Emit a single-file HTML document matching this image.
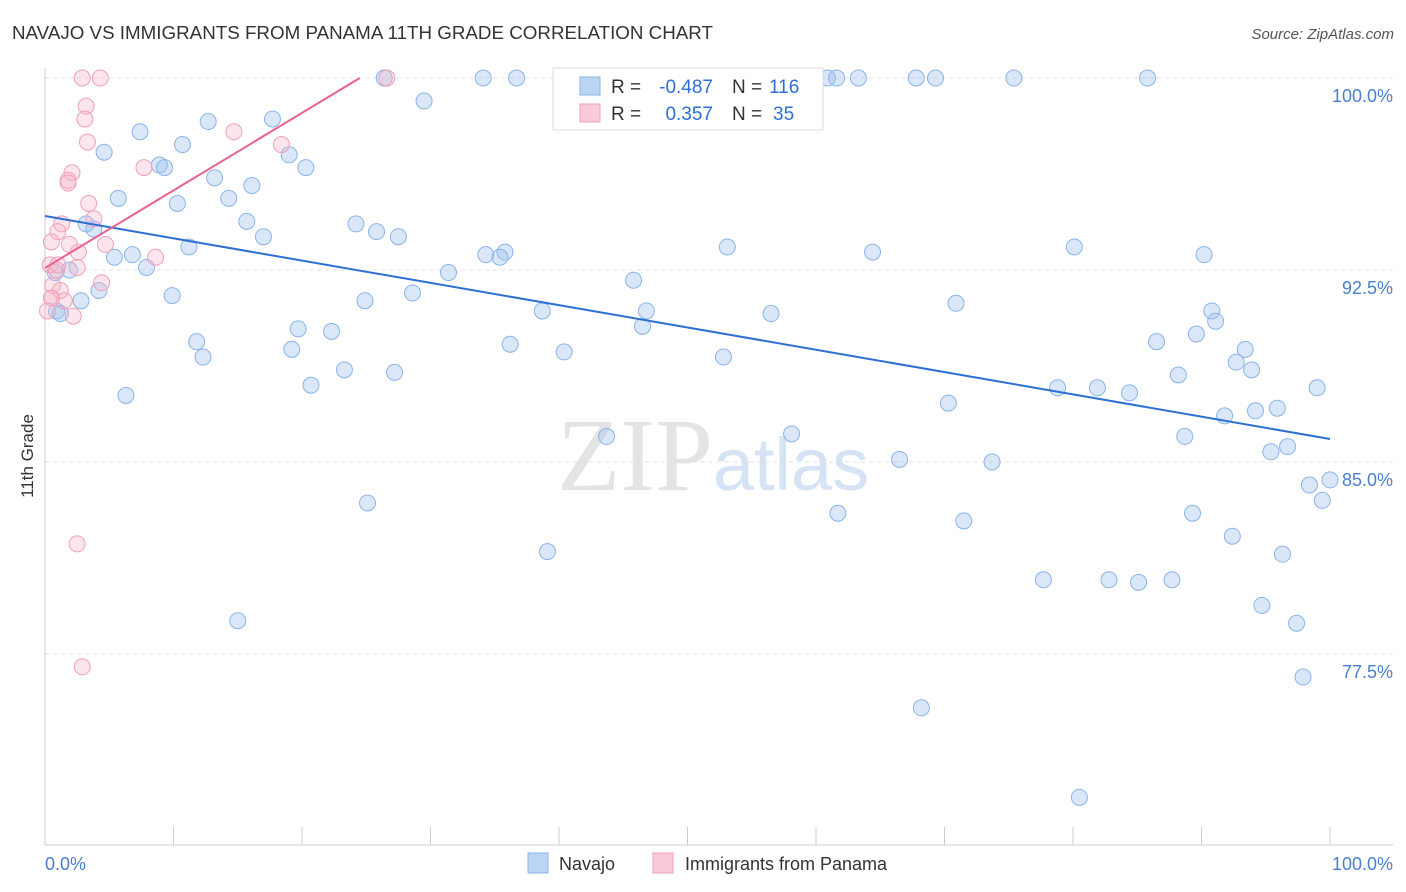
<!DOCTYPE html>
<html><head><meta charset="utf-8"><style>
body{margin:0;background:#fff;font-family:"Liberation Sans",sans-serif;}
svg{display:block}
</style></head><body>
<svg id="chart" width="1406" height="892" xmlns="http://www.w3.org/2000/svg" font-family="Liberation Sans, sans-serif">
<text x="12" y="39" font-size="18" fill="#333" textLength="701" lengthAdjust="spacingAndGlyphs">NAVAJO VS IMMIGRANTS FROM PANAMA 11TH GRADE CORRELATION CHART</text>
<text x="1394" y="39" font-size="15" fill="#555" text-anchor="end" font-style="italic">Source: ZipAtlas.com</text>
<text x="713" y="490" font-size="104" text-anchor="middle" fill="#e4e4e4" font-family="Liberation Serif, serif">ZIP<tspan fill="#d6e3f5" font-family="Liberation Sans, sans-serif" font-size="74">atlas</tspan></text>
<g id="grid"></g><g id="axes"></g><g id="pts"></g><g id="lines"></g>
<text transform="translate(33,456) rotate(-90)" font-size="17" fill="#333" text-anchor="middle">11th Grade</text>
<text x="45" y="870" font-size="18" fill="#4a7fd0">0.0%</text>
<text x="1393" y="870" font-size="18" fill="#4a7fd0" text-anchor="end">100.0%</text>
<g>
<rect x="553" y="68" width="270" height="62" fill="#fff" stroke="#ddd"/>
<rect x="580" y="77" width="20" height="18" fill="#bcd4f4" stroke="#8ab4ea"/>
<rect x="580" y="104" width="20" height="18" fill="#f9cbd9" stroke="#f0a0b8"/>
<text x="611" y="93" font-size="19" fill="#333">R =</text>
<text x="713" y="93" font-size="19" fill="#2d6fd4" text-anchor="end">-0.487</text>
<text x="732" y="93" font-size="19" fill="#333">N =</text>
<text x="769" y="93" font-size="19" fill="#2d6fd4">116</text>
<text x="611" y="120" font-size="19" fill="#333">R =</text>
<text x="713" y="120" font-size="19" fill="#2d6fd4" text-anchor="end">0.357</text>
<text x="732" y="120" font-size="19" fill="#333">N =</text>
<text x="773" y="120" font-size="19" fill="#2d6fd4">35</text>
</g>
<g>
<rect x="528" y="853" width="20" height="20" fill="#bcd4f4" stroke="#8ab4ea"/>
<text x="559" y="870" font-size="18" fill="#333">Navajo</text>
<rect x="653" y="853" width="20" height="20" fill="#f9cbd9" stroke="#f0a0b8"/>
<text x="685" y="870" font-size="18" fill="#333">Immigrants from Panama</text>
</g>
</svg>
<script>
const yTicks=[100,92.5,85,77.5];
const yTickLabels=["100.0%","92.5%","85.0%","77.5%"];
const xTicks=[0,10,20,30,40,50,60,70,80,90,100];
const navajoX=[26.4,34.1,36.7,52.4,60.9,61.6,63.3,67.8,69.3,75.4,85.8,29.5,12.7,17.7,7.4,10.7,4.6,19.0,8.9,9.3,20.3,13.2,16.1,5.7,10.3,14.3,15.7,24.2,3.2,3.8,25.8,17.0,27.5,11.2,53.1,80.1,35.8,34.3,35.4,64.4,90.2,5.4,6.8,7.9,1.9,0.8,31.4,45.8,4.2,28.6,9.9,2.8,24.9,0.9,1.2,70.9,38.7,46.8,90.8,91.1,56.5,46.5,19.7,22.3,11.8,89.6,36.2,86.5,40.4,19.2,93.4,12.3,52.8,92.7,93.9,23.3,27.2,88.2,20.7,78.8,81.9,84.4,99.0,6.3,70.3,95.9,94.2,91.8,43.7,58.1,88.7,96.7,95.4,66.5,73.7,100,98.4,99.4,25.1,61.7,71.5,89.3,92.4,39.1,96.3,77.7,82.8,85.1,87.7,94.7,15.0,97.4,97.9,68.2,80.5];
const navajoY=[100,100,100,100,100,100,100,100,100,100,100,99.1,98.3,98.4,97.9,97.4,97.1,97.0,96.6,96.5,96.5,96.1,95.8,95.3,95.1,95.3,94.4,94.3,94.3,94.1,94.0,93.8,93.8,93.4,93.4,93.4,93.2,93.1,93.0,93.2,93.1,93.0,93.1,92.6,92.5,92.4,92.4,92.1,91.7,91.6,91.5,91.3,91.3,90.9,90.8,91.2,90.9,90.9,90.9,90.5,90.8,90.3,90.2,90.1,89.7,90.0,89.6,89.7,89.3,89.4,89.4,89.1,89.1,88.9,88.6,88.6,88.5,88.4,88.0,87.9,87.9,87.7,87.9,87.6,87.3,87.1,87.0,86.8,86.0,86.1,86.0,85.6,85.4,85.1,85.0,84.3,84.1,83.5,83.4,83.0,82.7,83.0,82.1,81.5,81.4,80.4,80.4,80.3,80.4,79.4,78.8,78.7,76.6,75.4,71.9];
const panamaX=[2.9,4.3,26.6,3.2,3.1,14.7,3.3,18.4,7.7,2.1,1.8,1.8,3.4,3.8,1.3,1.0,0.5,1.9,4.7,2.6,8.6,0.4,0.9,1.0,2.5,4.4,0.6,1.2,0.5,1.5,0.5,0.2,2.2,2.5,2.9];
const panamaY=[100,100,100,98.9,98.4,97.9,97.5,97.4,96.5,96.3,96.0,95.9,95.1,94.5,94.3,94.0,93.6,93.5,93.5,93.2,93.0,92.7,92.5,92.7,92.6,92.0,91.9,91.7,91.4,91.3,91.4,90.9,90.7,81.8,77.0];
const navajoTrend=[94.61,85.9];
const panamaTrend=[92.58,100,24.5];
const NS="http://www.w3.org/2000/svg";
const X=v=>45+v*12.85, Y=v=>78+(100-v)*25.6;
function mk(t,a,p){const e=document.createElementNS(NS,t);for(const k in a)e.setAttribute(k,a[k]);document.getElementById(p).appendChild(e);return e;}
yTicks.forEach((t,i)=>{
 const l=mk('line',{x1:45,x2:1393,y1:Y(t),y2:Y(t),stroke:'#e2e2e2','stroke-dasharray':'4,4'},'grid');
 
 
 const tx=mk('text',{x:1393,y:Y(t)+24,'font-size':18,fill:'#4a7fd0','text-anchor':'end'},'grid');
 tx.textContent=yTickLabels[i];
 
 
});
const ax=mk('line',{x1:45,x2:45,y1:68,y2:845,stroke:'#ccc'},'axes');


const bx=mk('line',{x1:45,x2:1393,y1:845,y2:845,stroke:'#ccc'},'axes');


xTicks.forEach(t=>{
 const l=mk('line',{x1:X(t),x2:X(t),y1:827,y2:845,stroke:'#ccc'},'axes');
 
 
});
navajoX.forEach((v,i)=>{
 const c=mk('circle',{cx:X(v),cy:Y(navajoY[i]),r:8,fill:'rgba(160,195,240,0.4)',stroke:'#8ab4ea','stroke-width':1},'pts');
 
 
});
panamaX.forEach((v,i)=>{
 const c=mk('circle',{cx:X(v),cy:Y(panamaY[i]),r:8,fill:'rgba(245,180,200,0.35)',stroke:'#f0a0b8','stroke-width':1},'pts');
 
 
});
const bl=mk('line',{x1:X(0),y1:Y(navajoTrend[0]),x2:X(100),y2:Y(navajoTrend[1]),stroke:'#2d6fd4','stroke-width':2},'lines');


const pl=mk('line',{x1:X(0),y1:Y(panamaTrend[0]),x2:X(panamaTrend[2]),y2:Y(panamaTrend[1]),stroke:'#e8628c','stroke-width':2},'lines');


</script>
</body></html>
